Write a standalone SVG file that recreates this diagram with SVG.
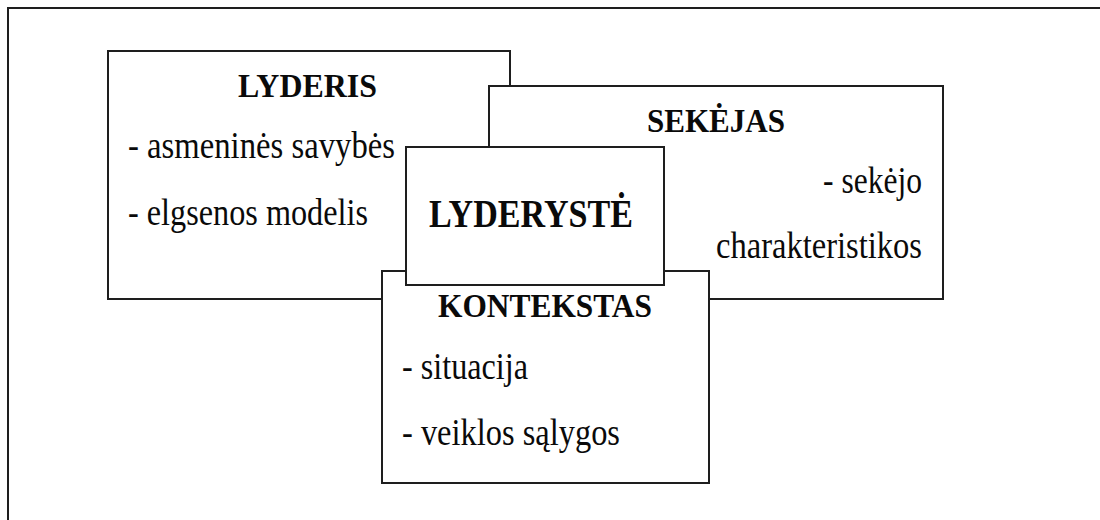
<svg xmlns="http://www.w3.org/2000/svg" width="1100" height="520" viewBox="0 0 1100 520">
  <style>
    .box { fill: #ffffff; stroke: #1e1e1e; stroke-width: 2; }
    .frame { fill: none; stroke: #1e1e1e; stroke-width: 2; }
    .t { font-family: "Liberation Serif", "Times New Roman", serif; fill: #0a0a0a; }
    .title { font-weight: bold; font-size: 34px; }
    .item { font-size: 38px; }
    .main { font-weight: bold; font-size: 40px; }
  </style>
  <rect width="1100" height="520" fill="#ffffff"/>
  <!-- outer frame, open to the right and bottom -->
  <rect class="frame" x="8" y="8" width="1200" height="600"/>

  <g id="connectors"></g>

  <g id="lyderis">
    <rect class="box" x="108" y="51" width="402" height="248"/>
    <text class="t title" x="238" y="97" textLength="139" lengthAdjust="spacingAndGlyphs">LYDERIS</text>
    <text class="t item" x="128" y="158" textLength="267" lengthAdjust="spacingAndGlyphs">- asmeninės savybės</text>
    <text class="t item" x="128" y="225" textLength="240" lengthAdjust="spacingAndGlyphs">- elgsenos modelis</text>
  </g>

  <g id="sekejas">
    <rect class="box" x="489" y="86" width="454" height="213"/>
    <text class="t title" x="647" y="132" textLength="138" lengthAdjust="spacingAndGlyphs">SEKĖJAS</text>
    <text class="t item" x="823" y="193" textLength="99" lengthAdjust="spacingAndGlyphs">- sekėjo</text>
    <text class="t item" x="716" y="258" textLength="206" lengthAdjust="spacingAndGlyphs">charakteristikos</text>
  </g>

  <g id="kontekstas">
    <rect class="box" x="382" y="271" width="327" height="212"/>
    <text class="t title" x="438" y="317" textLength="214" lengthAdjust="spacingAndGlyphs">KONTEKSTAS</text>
    <text class="t item" x="402" y="379" textLength="126" lengthAdjust="spacingAndGlyphs">- situacija</text>
    <text class="t item" x="402" y="445" textLength="218" lengthAdjust="spacingAndGlyphs">- veiklos sąlygos</text>
  </g>

  <g id="lyderyste">
    <rect class="box" x="406" y="147" width="258" height="138"/>
    <text class="t main" x="429" y="227" textLength="204" lengthAdjust="spacingAndGlyphs">LYDERYSTĖ</text>
  </g>
</svg>
